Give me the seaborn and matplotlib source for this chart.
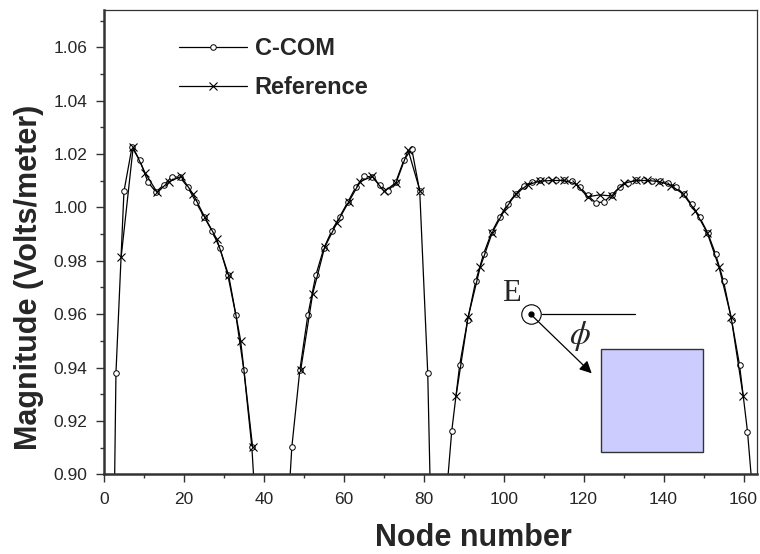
import numpy as np
import pandas as pd
import matplotlib
matplotlib.use("Agg")
import matplotlib.pyplot as plt
from matplotlib.lines import Line2D
from matplotlib.patches import Rectangle
from matplotlib.ticker import MultipleLocator, FormatStrFormatter
import seaborn as sns

# C-COM solution, sampled on odd node numbers (NaN = no sample drawn)
ccom_nodes = [1, 3, 5, 7, 9, 11, 13, 15, 17, 19, 21, 23, 25, 27, 29, 31, 33, 35, 37, 39,
              41, 43,
              45, 47, 49, 51, 53, 55, 57, 59, 61, 63, 65, 67, 69, 71, 73, 75, 77, 79, 81, 83,
              85, 87, 89, 91, 93, 95, 97, 99, 101, 103, 105, 107, 109, 111, 113, 115, 117,
              119, 121, 123, 125, 127, 129, 131, 133, 135, 137, 139, 141, 143, 145, 147,
              149, 151, 153, 155, 157, 159, 161, 163]
ccom_mag = [0.700, 0.938, 1.006, 1.0225, 1.0176, 1.0095, 1.0058, 1.0085, 1.0115, 1.0113,
            1.0076, 1.0020, 0.9966, 0.9913, 0.9847, 0.9746, 0.9596, 0.9390, 0.9102, 0.860,
            np.nan, np.nan,
            0.860, 0.9102, 0.9390, 0.9596, 0.9746, 0.9847, 0.9913, 0.9966, 1.0020, 1.0076,
            1.0116, 1.0115, 1.0085, 1.0060, 1.0095, 1.0176, 1.0220, 1.0060, 0.9380, 0.800,
            0.880, 0.9161, 0.9410, 0.9580, 0.9724, 0.9827, 0.9907, 0.9964, 1.0013, 1.0051,
            1.0081, 1.0095, 1.0101, 1.0102, 1.0102, 1.0101, 1.0098, 1.0078, 1.0045, 1.0018,
            1.0020, 1.0046, 1.0076, 1.0093, 1.0101, 1.0101, 1.0099, 1.0098, 1.0093, 1.0078,
            1.0050, 1.0012, 0.9964, 0.9906, 0.9826, 0.9724, 0.9580, 0.9410, 0.9160, 0.880]

# Reference solution
ref_nodes = [4.3, 7.3, 10.3, 13.3, 16.3, 19.3, 22.3, 25.2, 28.2, 31.2, 34.2, 37.2,
             49.2, 52.2, 55.2, 58.2, 61.2, 64.1, 67.1, 70.1, 73.1, 76.1, 79.1,
             88.1, 91.1, 94.1, 97.1, 100.0, 103.0, 106.0, 109.0, 112.0, 115.0, 118.0,
             121.0, 124.0, 127.0, 130.0, 133.0, 135.9, 138.9, 141.9, 144.9, 147.9,
             150.9, 153.9, 156.9, 159.9]
ref_mag = [0.9814, 1.0225, 1.0129, 1.0057, 1.0097, 1.0116, 1.0050, 0.9964, 0.9882, 0.9745,
           0.9500, 0.9101,
           0.9389, 0.9675, 0.9850, 0.9940, 1.0020, 1.0097, 1.0116, 1.0060, 1.0093, 1.0215,
           1.0060,
           0.9295, 0.9588, 0.9775, 0.9904, 0.9985, 1.0050, 1.0085, 1.0098, 1.0101, 1.0101,
           1.0088, 1.0040, 1.0047, 1.0043, 1.0090, 1.0101, 1.0101, 1.0097, 1.0082, 1.0050,
           0.9988, 0.9906, 0.9775, 0.9589, 0.9295]
ref_lobe = [0] * 12 + [1] * 11 + [2] * 25

x_ticks = [0, 20, 40, 60, 80, 100, 120, 140, 160]
y_ticks = [0.90, 0.92, 0.94, 0.96, 0.98, 1.00, 1.02, 1.04, 1.06]

sns.set_style("ticks")
plt.rcParams["font.family"] = ["Liberation Sans", "DejaVu Sans"]
plt.rcParams["mathtext.fontset"] = "stix"

ccom = pd.DataFrame({"node": ccom_nodes, "mag": ccom_mag})
ccom["seg"] = ccom["mag"].isna().cumsum()
ccom = ccom.dropna()
ref = pd.DataFrame({"node": ref_nodes, "mag": ref_mag, "seg": ref_lobe})

fig = plt.figure(figsize=(7.6, 5.54), dpi=100)
ax = fig.add_axes([0.1368, 0.1439, 0.8599, 0.8381])

line_kw = dict(color="black", linewidth=0.9, estimator=None, sort=False, legend=False)
sns.lineplot(data=ccom, x="node", y="mag", units="seg", ax=ax, marker="o",
             markersize=4, markerfacecolor="white", markeredgecolor="black",
             markeredgewidth=0.7, **line_kw)
sns.lineplot(data=ref, x="node", y="mag", units="seg", ax=ax, marker="x",
             markersize=6, markeredgecolor="black", markeredgewidth=0.8, **line_kw)

ax.set_xlim(0, 163.5)
ax.set_ylim(0.90, 1.074)
ax.set_xticks(x_ticks)
ax.set_yticks(y_ticks)
ax.xaxis.set_minor_locator(MultipleLocator(10))
ax.yaxis.set_minor_locator(MultipleLocator(0.01))
ax.yaxis.set_major_formatter(FormatStrFormatter("%.2f"))
ax.tick_params(which="major", direction="out", length=6, width=1.0, color="#333333",
               labelsize=12.5)
ax.tick_params(axis="x", which="major", pad=7)
ax.tick_params(axis="y", which="major", pad=6)
ax.tick_params(which="minor", direction="out", length=3, width=1.0, color="#333333")

for side in ["left", "bottom"]:
    ax.spines[side].set_linewidth(1.8)
    ax.spines[side].set_color("#333333")
for side in ["top", "right"]:
    ax.spines[side].set_linewidth(0.9)
    ax.spines[side].set_color("#333333")

ax.set_xlabel("Node number", fontsize=22, fontweight="bold")
ax.set_ylabel("Magnitude (Volts/meter)", fontsize=22, fontweight="bold")
ax.xaxis.set_label_coords(0.566, -0.105)
ax.yaxis.set_label_coords(-0.091, 0.425)

handles = [
    Line2D([], [], color="black", linewidth=0.9, marker="o", markersize=4,
           markerfacecolor="white", markeredgewidth=0.7),
    Line2D([], [], color="black", linewidth=0.9, marker="x", markersize=6,
           markeredgewidth=0.8),
]
leg = ax.legend(handles, ["C-COM", "Reference"], loc="upper left",
                bbox_to_anchor=(0.1148, 0.941), frameon=False, borderpad=0,
                borderaxespad=0, handlelength=2.9, handletextpad=0.3,
                labelspacing=0.67, prop=dict(size=17, weight="bold"))

# Scatterer sketch: incident field, angle and the cylinder cross-section
T = ax.transAxes
ax.add_patch(Rectangle((0.760, 0.0487), 0.157, 0.2212, transform=T,
                       facecolor="#CCCCFF", edgecolor="#333333", linewidth=1.0))
cx, cy = 0.653, 0.3446
ax.plot([cx], [cy], transform=T, marker="o", markersize=14, markerfacecolor="none",
        markeredgecolor="black", markeredgewidth=0.8, clip_on=False)
ax.plot([cx], [cy], transform=T, marker="o", markersize=3.5, color="black", clip_on=False)
ax.plot([0.670, 0.8125], [cy, cy], transform=T, color="black", linewidth=0.9)
ax.annotate("", xy=(0.7463, 0.2175), xytext=(cx, cy), xycoords=T, textcoords=T,
            arrowprops=dict(arrowstyle="-|>", color="black", linewidth=0.9,
                            mutation_scale=18, shrinkA=0, shrinkB=0))
ax.text(0.6228, 0.3733, "E", transform=T, ha="center", va="baseline", fontsize=22,
        family=["Liberation Serif", "DejaVu Serif"])
ax.text(0.7284, 0.2979, r"$\phi$", transform=T, ha="center", va="center", fontsize=24)

fig.savefig("out.png", dpi=100)
